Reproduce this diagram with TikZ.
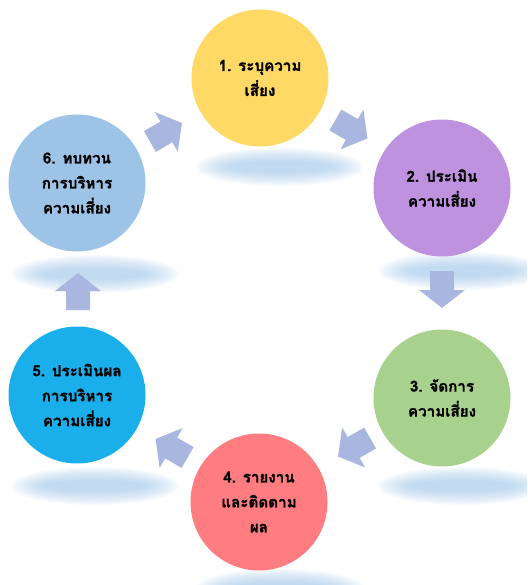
\documentclass[tikz,border=0pt]{standalone}
\usepackage{fontspec}
\newfontfamily\thaifont[Script=Thai, FakeBold=1.2]{Loma}
\usetikzlibrary{calc}
\definecolor{cyel}{HTML}{FFD966}
\definecolor{cpur}{HTML}{BE92DF}
\definecolor{cgrn}{HTML}{A9D18E}
\definecolor{cred}{HTML}{FF7C80}
\definecolor{ccya}{HTML}{1AAFEA}
\definecolor{cblu}{HTML}{9DC3E6}
\definecolor{arrowc}{HTML}{A9B6DF}
\definecolor{shadc}{HTML}{9CC3E8}
\newcommand\shadowell[2]{%
  \foreach \k in {0,...,11}{%
    \fill[shadc, opacity=0.075] (#1,#2) ellipse [x radius={84-3*\k}, y radius={19-1.2*\k}];}}
\begin{document}
\begin{tikzpicture}[x=1pt,y=-1pt,
  bub/.style={circle, minimum size=137pt, inner sep=0pt, align=center,
    font=\thaifont\bfseries\fontsize{15.2}{25}\selectfont, text=black},
  blk/.pic={\fill[arrowc] (-18,-12) -- (1,-12) -- (1,-23) -- (19,0) -- (1,23) -- (1,12) -- (-18,12) -- cycle;}]
\useasboundingbox (0,0) rectangle (527,585);
\clip (0,0) rectangle (527,585);
% shadows
\shadowell{280}{167}
\shadowell{462}{271}
\shadowell{462}{486}
\shadowell{280}{588}
\shadowell{95}{486}
\shadowell{95}{274}
% circles
\node[bub, fill=cyel] (c1) at (260,78)  {1. ระบุความ\\เสี่ยง};
\node[bub, fill=cpur] (c2) at (442,188) {2. ประเมิน\\ความเสี่ยง};
\node[bub, fill=cgrn] (c3) at (442,398) {3. จัดการ\\ความเสี่ยง};
\node[bub, fill=cred] (c4) at (259,502) {4. รายงาน\\และติดตาม\\ผล};
\node[bub, fill=ccya] (c5) at (77,395)  {5. ประเมินผล\\การบริหาร\\ความเสี่ยง};
\node[bub, fill=cblu] (c6) at (77,183)  {6. ทบทวน\\การบริหาร\\ความเสี่ยง};
% block arrows
\pic[rotate=-30] (a12) at ($(c1)!0.5!(c2)+(0,-4)$) {blk};
\pic[rotate=-90] (a23) at ($(c2)!0.5!(c3)+(0,-4)$) {blk};
\pic[rotate=-150] (a34) at ($(c3)!0.5!(c4)+(4,-3)$) {blk};
\pic[rotate=150] (a45) at ($(c4)!0.5!(c5)+(4,0)$) {blk};
\pic[rotate=90] (a56) at ($(c5)!0.5!(c6)+(1,3)$) {blk};
\pic[rotate=30] (a61) at ($(c6)!0.5!(c1)+(-3,2)$) {blk};
\end{tikzpicture}
\end{document}
